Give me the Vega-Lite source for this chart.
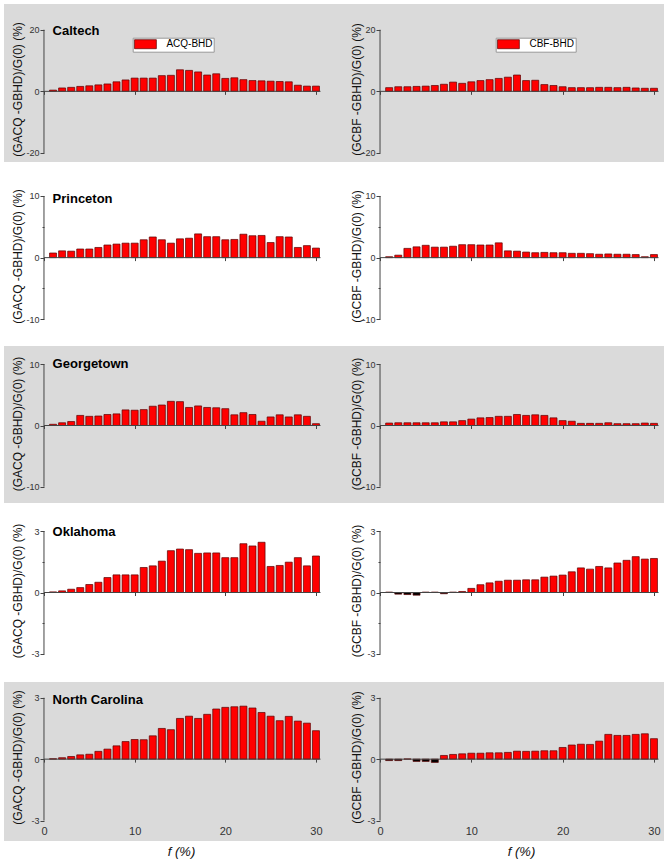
{
  "$schema": "https://vega.github.io/schema/vega-lite/v6.json",
  "padding": {"left": 4, "top": 4, "right": 0, "bottom": 0},
  "background": "white",
  "config": {
    "view": {"stroke": null},
    "scale": {"continuousPadding": 0},
    "axis": {"domain": false, "grid": false, "tickColor": "#444", "tickWidth": 1, "labelFont": "Liberation Sans", "labelFontSize": 9, "labelColor": "#333", "labelPadding": 1, "labelFlush": false, "titleFont": "Liberation Sans", "titleFontSize": 12, "titleFontWeight": "normal", "titleColor": "#111"},
    "text": {"font": "Liberation Sans"},
    "legend": {"labelFont": "Liberation Sans"}
  },
  "datasets": {
    "calA": [{"f":1,"v":0.4,"s":"ACQ-BHD"},{"f":2,"v":1.1,"s":"ACQ-BHD"},{"f":3,"v":1.3,"s":"ACQ-BHD"},{"f":4,"v":1.6,"s":"ACQ-BHD"},{"f":5,"v":1.8,"s":"ACQ-BHD"},{"f":6,"v":2.1,"s":"ACQ-BHD"},{"f":7,"v":2.4,"s":"ACQ-BHD"},{"f":8,"v":3.1,"s":"ACQ-BHD"},{"f":9,"v":3.7,"s":"ACQ-BHD"},{"f":10,"v":4.3,"s":"ACQ-BHD"},{"f":11,"v":4.3,"s":"ACQ-BHD"},{"f":12,"v":4.3,"s":"ACQ-BHD"},{"f":13,"v":5.1,"s":"ACQ-BHD"},{"f":14,"v":5.2,"s":"ACQ-BHD"},{"f":15,"v":7.0,"s":"ACQ-BHD"},{"f":16,"v":6.8,"s":"ACQ-BHD"},{"f":17,"v":6.3,"s":"ACQ-BHD"},{"f":18,"v":5.3,"s":"ACQ-BHD"},{"f":19,"v":5.7,"s":"ACQ-BHD"},{"f":20,"v":4.2,"s":"ACQ-BHD"},{"f":21,"v":4.4,"s":"ACQ-BHD"},{"f":22,"v":3.8,"s":"ACQ-BHD"},{"f":23,"v":3.5,"s":"ACQ-BHD"},{"f":24,"v":3.4,"s":"ACQ-BHD"},{"f":25,"v":3.3,"s":"ACQ-BHD"},{"f":26,"v":3.2,"s":"ACQ-BHD"},{"f":27,"v":3.1,"s":"ACQ-BHD"},{"f":28,"v":2.0,"s":"ACQ-BHD"},{"f":29,"v":1.7,"s":"ACQ-BHD"},{"f":30,"v":1.7,"s":"ACQ-BHD"}],
    "calC": [{"f":1,"v":1.2,"s":"CBF-BHD"},{"f":2,"v":1.5,"s":"CBF-BHD"},{"f":3,"v":1.5,"s":"CBF-BHD"},{"f":4,"v":1.6,"s":"CBF-BHD"},{"f":5,"v":1.7,"s":"CBF-BHD"},{"f":6,"v":1.9,"s":"CBF-BHD"},{"f":7,"v":2.3,"s":"CBF-BHD"},{"f":8,"v":3.0,"s":"CBF-BHD"},{"f":9,"v":2.6,"s":"CBF-BHD"},{"f":10,"v":3.1,"s":"CBF-BHD"},{"f":11,"v":3.5,"s":"CBF-BHD"},{"f":12,"v":3.8,"s":"CBF-BHD"},{"f":13,"v":4.2,"s":"CBF-BHD"},{"f":14,"v":4.6,"s":"CBF-BHD"},{"f":15,"v":5.3,"s":"CBF-BHD"},{"f":16,"v":3.5,"s":"CBF-BHD"},{"f":17,"v":3.6,"s":"CBF-BHD"},{"f":18,"v":2.2,"s":"CBF-BHD"},{"f":19,"v":1.9,"s":"CBF-BHD"},{"f":20,"v":1.5,"s":"CBF-BHD"},{"f":21,"v":1.2,"s":"CBF-BHD"},{"f":22,"v":1.2,"s":"CBF-BHD"},{"f":23,"v":1.2,"s":"CBF-BHD"},{"f":24,"v":1.3,"s":"CBF-BHD"},{"f":25,"v":1.3,"s":"CBF-BHD"},{"f":26,"v":1.2,"s":"CBF-BHD"},{"f":27,"v":1.3,"s":"CBF-BHD"},{"f":28,"v":1.1,"s":"CBF-BHD"},{"f":29,"v":1.0,"s":"CBF-BHD"},{"f":30,"v":1.0,"s":"CBF-BHD"}],
    "prA": [{"f":1,"v":0.75},{"f":2,"v":1.1},{"f":3,"v":1.05},{"f":4,"v":1.4},{"f":5,"v":1.4},{"f":6,"v":1.65},{"f":7,"v":2.05},{"f":8,"v":2.2},{"f":9,"v":2.35},{"f":10,"v":2.35},{"f":11,"v":2.9},{"f":12,"v":3.35},{"f":13,"v":2.9},{"f":14,"v":2.35},{"f":15,"v":3.05},{"f":16,"v":3.15},{"f":17,"v":3.85},{"f":18,"v":3.4},{"f":19,"v":3.4},{"f":20,"v":2.9},{"f":21,"v":2.95},{"f":22,"v":3.8},{"f":23,"v":3.55},{"f":24,"v":3.6},{"f":25,"v":2.45},{"f":26,"v":3.4},{"f":27,"v":3.35},{"f":28,"v":1.65},{"f":29,"v":1.95},{"f":30,"v":1.55}],
    "prC": [{"f":1,"v":0.15},{"f":2,"v":0.4},{"f":3,"v":1.5},{"f":4,"v":1.75},{"f":5,"v":2.0},{"f":6,"v":1.7},{"f":7,"v":1.7},{"f":8,"v":1.85},{"f":9,"v":2.1},{"f":10,"v":2.1},{"f":11,"v":2.05},{"f":12,"v":2.05},{"f":13,"v":2.4},{"f":14,"v":1.1},{"f":15,"v":1.05},{"f":16,"v":0.9},{"f":17,"v":0.8},{"f":18,"v":0.85},{"f":19,"v":0.8},{"f":20,"v":0.8},{"f":21,"v":0.7},{"f":22,"v":0.7},{"f":23,"v":0.65},{"f":24,"v":0.55},{"f":25,"v":0.6},{"f":26,"v":0.55},{"f":27,"v":0.55},{"f":28,"v":0.5},{"f":29,"v":0.15},{"f":30,"v":0.5}],
    "geA": [{"f":1,"v":0.2},{"f":2,"v":0.45},{"f":3,"v":0.65},{"f":4,"v":1.65},{"f":5,"v":1.5},{"f":6,"v":1.55},{"f":7,"v":1.8},{"f":8,"v":1.9},{"f":9,"v":2.55},{"f":10,"v":2.5},{"f":11,"v":2.6},{"f":12,"v":3.15},{"f":13,"v":3.35},{"f":14,"v":3.95},{"f":15,"v":3.9},{"f":16,"v":2.95},{"f":17,"v":3.2},{"f":18,"v":2.95},{"f":19,"v":2.9},{"f":20,"v":2.75},{"f":21,"v":1.75},{"f":22,"v":2.1},{"f":23,"v":1.8},{"f":24,"v":0.7},{"f":25,"v":1.4},{"f":26,"v":1.75},{"f":27,"v":1.4},{"f":28,"v":1.75},{"f":29,"v":1.5},{"f":30,"v":0.3}],
    "geC": [{"f":1,"v":0.4},{"f":2,"v":0.45},{"f":3,"v":0.45},{"f":4,"v":0.45},{"f":5,"v":0.45},{"f":6,"v":0.45},{"f":7,"v":0.6},{"f":8,"v":0.6},{"f":9,"v":0.8},{"f":10,"v":1.05},{"f":11,"v":1.25},{"f":12,"v":1.3},{"f":13,"v":1.5},{"f":14,"v":1.5},{"f":15,"v":1.8},{"f":16,"v":1.65},{"f":17,"v":1.75},{"f":18,"v":1.65},{"f":19,"v":1.25},{"f":20,"v":0.8},{"f":21,"v":0.7},{"f":22,"v":0.35},{"f":23,"v":0.35},{"f":24,"v":0.35},{"f":25,"v":0.45},{"f":26,"v":0.3},{"f":27,"v":0.3},{"f":28,"v":0.3},{"f":29,"v":0.4},{"f":30,"v":0.35}],
    "okA": [{"f":1,"v":0.03},{"f":2,"v":0.08},{"f":3,"v":0.16},{"f":4,"v":0.24},{"f":5,"v":0.39},{"f":6,"v":0.5},{"f":7,"v":0.73},{"f":8,"v":0.86},{"f":9,"v":0.86},{"f":10,"v":0.86},{"f":11,"v":1.22},{"f":12,"v":1.3},{"f":13,"v":1.53},{"f":14,"v":2.04},{"f":15,"v":2.12},{"f":16,"v":2.09},{"f":17,"v":1.91},{"f":18,"v":1.93},{"f":19,"v":1.93},{"f":20,"v":1.7},{"f":21,"v":1.7},{"f":22,"v":2.38},{"f":23,"v":2.27},{"f":24,"v":2.45},{"f":25,"v":1.27},{"f":26,"v":1.32},{"f":27,"v":1.48},{"f":28,"v":1.7},{"f":29,"v":1.3},{"f":30,"v":1.78}],
    "okC": [{"f":1,"v":0.02},{"f":2,"v":-0.08},{"f":3,"v":-0.1},{"f":4,"v":-0.13},{"f":5,"v":0.02},{"f":6,"v":0.02},{"f":7,"v":-0.06},{"f":8,"v":0.02},{"f":9,"v":0.05},{"f":10,"v":0.2},{"f":11,"v":0.38},{"f":12,"v":0.47},{"f":13,"v":0.55},{"f":14,"v":0.6},{"f":15,"v":0.6},{"f":16,"v":0.62},{"f":17,"v":0.62},{"f":18,"v":0.75},{"f":19,"v":0.8},{"f":20,"v":0.85},{"f":21,"v":1.01},{"f":22,"v":1.2},{"f":23,"v":1.14},{"f":24,"v":1.27},{"f":25,"v":1.2},{"f":26,"v":1.44},{"f":27,"v":1.57},{"f":28,"v":1.75},{"f":29,"v":1.63},{"f":30,"v":1.66}],
    "ncA": [{"f":1,"v":0.02},{"f":2,"v":0.07},{"f":3,"v":0.13},{"f":4,"v":0.21},{"f":5,"v":0.24},{"f":6,"v":0.38},{"f":7,"v":0.49},{"f":8,"v":0.65},{"f":9,"v":0.86},{"f":10,"v":0.96},{"f":11,"v":0.95},{"f":12,"v":1.14},{"f":13,"v":1.5},{"f":14,"v":1.44},{"f":15,"v":1.99},{"f":16,"v":2.1},{"f":17,"v":1.99},{"f":18,"v":2.19},{"f":19,"v":2.45},{"f":20,"v":2.53},{"f":21,"v":2.56},{"f":22,"v":2.59},{"f":23,"v":2.5},{"f":24,"v":2.28},{"f":25,"v":2.1},{"f":26,"v":1.88},{"f":27,"v":2.09},{"f":28,"v":1.86},{"f":29,"v":1.76},{"f":30,"v":1.39}],
    "ncC": [{"f":1,"v":-0.07},{"f":2,"v":-0.07},{"f":3,"v":0.01},{"f":4,"v":-0.11},{"f":5,"v":-0.11},{"f":6,"v":-0.16},{"f":7,"v":0.18},{"f":8,"v":0.23},{"f":9,"v":0.26},{"f":10,"v":0.29},{"f":11,"v":0.29},{"f":12,"v":0.31},{"f":13,"v":0.31},{"f":14,"v":0.33},{"f":15,"v":0.39},{"f":16,"v":0.38},{"f":17,"v":0.39},{"f":18,"v":0.41},{"f":19,"v":0.41},{"f":20,"v":0.57},{"f":21,"v":0.69},{"f":22,"v":0.73},{"f":23,"v":0.72},{"f":24,"v":0.88},{"f":25,"v":1.21},{"f":26,"v":1.16},{"f":27,"v":1.16},{"f":28,"v":1.21},{"f":29,"v":1.24},{"f":30,"v":1.0}],
    "one": [{}]
  },
  "resolve": {"scale": {"color": "independent"}, "legend": {"color": "independent"}},
  "spacing": 0,
  "vconcat": [
    {
      "spacing": 0,
      "resolve": {"scale": {"color": "independent"}, "legend": {"color": "independent"}},
      "hconcat": [
        {
          "width": 331, "height": 158,
          "view": {"fill": "#dadada", "stroke": null},
          "layer": [
            {"data": {"name": "calA"}, "mark": {"type": "bar", "size": 7, "stroke": "#5a0000", "strokeWidth": 0.7},
             "encoding": {
               "x": {"field": "f", "type": "quantitative", "scale": {"domain": [-4.41, 32.1], "nice": false, "zero": false, "padding": 0}, "axis": {"orient": "bottom", "offset": -70.65, "values": [0, 10, 20, 30], "labels": false, "tickSize": 3, "title": null}},
               "y": {"field": "v", "type": "quantitative", "scale": {"domain": [-22.92, 28.34], "nice": false, "zero": false}, "axis": {"orient": "left", "offset": -40, "values": [-20, -10, 0, 10, 20], "labelExpr": "abs(datum.value) == 10 ? '' : '' + datum.value", "tickSize": {"condition": {"test": "abs(datum.value) == 10", "value": 2}, "value": 4}, "title": "(GACQ -GBHD)/G(0) (%)", "titleX": -20, "titleY": 85}},
               "color": {"field": "s", "type": "nominal", "scale": {"domain": ["ACQ-BHD"], "range": ["#ff0000"]}, "legend": {"orient": "none", "legendX": 128.7, "legendY": 33.7, "title": null, "fillColor": "white", "strokeColor": "#999", "padding": 1, "symbolType": "M-2.3,-0.95L2.3,-0.95L2.3,0.95L-2.3,0.95Z", "symbolSize": 90, "symbolOffset": 6.25, "labelOffset": 15.5, "labelFontSize": 10, "labelColor": "#000", "symbolStrokeColor": "#5a0000", "symbolStrokeWidth": 0.7}}
             }},
            {"data": {"name": "one"}, "mark": {"type": "rule", "color": "#444"}, "encoding": {"x": {"datum": 0}, "x2": {"datum": 30.5}, "y": {"datum": 0}}},
            {"data": {"name": "one"}, "mark": {"type": "rule", "color": "#444"}, "encoding": {"x": {"datum": 0}, "y": {"datum": -20}, "y2": {"datum": 20}}},
            {"data": {"values": [{"name": "Caltech"}]}, "mark": {"type": "text", "align": "left", "baseline": "alphabetic", "fontSize": 13, "fontWeight": "bold", "color": "#000"}, "encoding": {"text": {"field": "name"}, "x": {"datum": 0.95}, "y": {"datum": 18.2}}}
          ]
        },
        {
          "width": 329, "height": 158,
          "view": {"fill": "#dadada", "stroke": null},
          "layer": [
            {"data": {"name": "calC"}, "mark": {"type": "bar", "size": 7, "stroke": "#5a0000", "strokeWidth": 0.7},
             "encoding": {
               "x": {"field": "f", "type": "quantitative", "scale": {"domain": [-4.93, 31.1], "nice": false, "zero": false, "padding": 0}, "axis": {"orient": "bottom", "offset": -70.65, "values": [0, 10, 20, 30], "labels": false, "tickSize": 3, "title": null}},
               "y": {"field": "v", "type": "quantitative", "scale": {"domain": [-22.92, 28.34], "nice": false, "zero": false}, "axis": {"orient": "left", "offset": -45, "values": [-20, -10, 0, 10, 20], "labelExpr": "abs(datum.value) == 10 ? '' : '' + datum.value", "tickSize": {"condition": {"test": "abs(datum.value) == 10", "value": 2}, "value": 4}, "title": "(GCBF -GBHD)/G(0) (%)", "titleX": -16.5, "titleY": 85}},
               "color": {"field": "s", "type": "nominal", "scale": {"domain": ["CBF-BHD"], "range": ["#ff0000"]}, "legend": {"orient": "none", "legendX": 160.7, "legendY": 33.7, "title": null, "fillColor": "white", "strokeColor": "#999", "padding": 1, "symbolType": "M-2.3,-0.95L2.3,-0.95L2.3,0.95L-2.3,0.95Z", "symbolSize": 90, "symbolOffset": 6.25, "labelOffset": 15.5, "labelFontSize": 10, "labelColor": "#000", "symbolStrokeColor": "#5a0000", "symbolStrokeWidth": 0.7}}
             }},
            {"data": {"name": "one"}, "mark": {"type": "rule", "color": "#444"}, "encoding": {"x": {"datum": 0}, "x2": {"datum": 30.5}, "y": {"datum": 0}}},
            {"data": {"name": "one"}, "mark": {"type": "rule", "color": "#444"}, "encoding": {"x": {"datum": 0}, "y": {"datum": -20}, "y2": {"datum": 20}}}
          ]
        }
      ]
    },
    {
      "spacing": 0,
      "resolve": {"scale": {"color": "independent"}, "legend": {"color": "independent"}},
      "hconcat": [
        {
          "width": 331, "height": 184,
          "layer": [
            {"data": {"name": "prA"}, "mark": {"type": "bar", "size": 7, "stroke": "#5a0000", "strokeWidth": 0.7},
             "encoding": {
               "x": {"field": "f", "type": "quantitative", "scale": {"domain": [-4.41, 32.1], "nice": false, "zero": false, "padding": 0}, "axis": {"orient": "bottom", "offset": -88.4, "values": [0, 10, 20, 30], "labels": false, "tickSize": 3, "title": null}},
               "y": {"field": "v", "type": "quantitative", "scale": {"domain": [-14.33, 15.51], "nice": false, "zero": false}, "axis": {"orient": "left", "offset": -40, "values": [-10, -5, 0, 5, 10], "labelExpr": "abs(datum.value) == 5 ? '' : '' + datum.value", "tickSize": {"condition": {"test": "abs(datum.value) == 5", "value": 2}, "value": 4}, "title": "(GACQ -GBHD)/G(0) (%)", "titleX": -20, "titleY": 94}},
               "color": {"condition": {"test": "datum.v < 0", "value": "#000000"}, "value": "#ff0000"}
             }},
            {"data": {"name": "one"}, "mark": {"type": "rule", "color": "#444"}, "encoding": {"x": {"datum": 0}, "x2": {"datum": 30.5}, "y": {"datum": 0}}},
            {"data": {"name": "one"}, "mark": {"type": "rule", "color": "#444"}, "encoding": {"x": {"datum": 0}, "y": {"datum": -10}, "y2": {"datum": 10}}},
            {"data": {"values": [{"name": "Princeton"}]}, "mark": {"type": "text", "align": "left", "baseline": "alphabetic", "fontSize": 13, "fontWeight": "bold", "color": "#000"}, "encoding": {"text": {"field": "name"}, "x": {"datum": 0.95}, "y": {"datum": 8.86}}}
          ]
        },
        {
          "width": 329, "height": 184,
          "layer": [
            {"data": {"name": "prC"}, "mark": {"type": "bar", "size": 7, "stroke": "#5a0000", "strokeWidth": 0.7},
             "encoding": {
               "x": {"field": "f", "type": "quantitative", "scale": {"domain": [-4.93, 31.1], "nice": false, "zero": false, "padding": 0}, "axis": {"orient": "bottom", "offset": -88.4, "values": [0, 10, 20, 30], "labels": false, "tickSize": 3, "title": null}},
               "y": {"field": "v", "type": "quantitative", "scale": {"domain": [-14.33, 15.51], "nice": false, "zero": false}, "axis": {"orient": "left", "offset": -45, "values": [-10, -5, 0, 5, 10], "labelExpr": "abs(datum.value) == 5 ? '' : '' + datum.value", "tickSize": {"condition": {"test": "abs(datum.value) == 5", "value": 2}, "value": 4}, "title": "(GCBF -GBHD)/G(0) (%)", "titleX": -16.5, "titleY": 94}},
               "color": {"condition": {"test": "datum.v < 0", "value": "#000000"}, "value": "#ff0000"}
             }},
            {"data": {"name": "one"}, "mark": {"type": "rule", "color": "#444"}, "encoding": {"x": {"datum": 0}, "x2": {"datum": 30.5}, "y": {"datum": 0}}},
            {"data": {"name": "one"}, "mark": {"type": "rule", "color": "#444"}, "encoding": {"x": {"datum": 0}, "y": {"datum": -10}, "y2": {"datum": 10}}}
          ]
        }
      ]
    },
    {
      "spacing": 0,
      "resolve": {"scale": {"color": "independent"}, "legend": {"color": "independent"}},
      "hconcat": [
        {
          "width": 331, "height": 157,
          "view": {"fill": "#dadada", "stroke": null},
          "layer": [
            {"data": {"name": "geA"}, "mark": {"type": "bar", "size": 7, "stroke": "#5a0000", "strokeWidth": 0.7},
             "encoding": {
               "x": {"field": "f", "type": "quantitative", "scale": {"domain": [-4.41, 32.1], "nice": false, "zero": false, "padding": 0}, "axis": {"orient": "bottom", "offset": -77.5, "values": [0, 10, 20, 30], "labels": false, "tickSize": 3, "title": null}},
               "y": {"field": "v", "type": "quantitative", "scale": {"domain": [-12.66, 12.99], "nice": false, "zero": false}, "axis": {"orient": "left", "offset": -40, "values": [-10, -5, 0, 5, 10], "labelExpr": "abs(datum.value) == 5 ? '' : '' + datum.value", "tickSize": {"condition": {"test": "abs(datum.value) == 5", "value": 2}, "value": 4}, "title": "(GACQ -GBHD)/G(0) (%)", "titleX": -20, "titleY": 77.5}},
               "color": {"condition": {"test": "datum.v < 0", "value": "#000000"}, "value": "#ff0000"}
             }},
            {"data": {"name": "one"}, "mark": {"type": "rule", "color": "#444"}, "encoding": {"x": {"datum": 0}, "x2": {"datum": 30.5}, "y": {"datum": 0}}},
            {"data": {"name": "one"}, "mark": {"type": "rule", "color": "#444"}, "encoding": {"x": {"datum": 0}, "y": {"datum": -10}, "y2": {"datum": 10}}},
            {"data": {"values": [{"name": "Georgetown"}]}, "mark": {"type": "text", "align": "left", "baseline": "alphabetic", "fontSize": 13, "fontWeight": "bold", "color": "#000"}, "encoding": {"text": {"field": "name"}, "x": {"datum": 0.95}, "y": {"datum": 9.35}}}
          ]
        },
        {
          "width": 329, "height": 157,
          "view": {"fill": "#dadada", "stroke": null},
          "layer": [
            {"data": {"name": "geC"}, "mark": {"type": "bar", "size": 7, "stroke": "#5a0000", "strokeWidth": 0.7},
             "encoding": {
               "x": {"field": "f", "type": "quantitative", "scale": {"domain": [-4.93, 31.1], "nice": false, "zero": false, "padding": 0}, "axis": {"orient": "bottom", "offset": -77.5, "values": [0, 10, 20, 30], "labels": false, "tickSize": 3, "title": null}},
               "y": {"field": "v", "type": "quantitative", "scale": {"domain": [-12.66, 12.99], "nice": false, "zero": false}, "axis": {"orient": "left", "offset": -45, "values": [-10, -5, 0, 5, 10], "labelExpr": "abs(datum.value) == 5 ? '' : '' + datum.value", "tickSize": {"condition": {"test": "abs(datum.value) == 5", "value": 2}, "value": 4}, "title": "(GCBF -GBHD)/G(0) (%)", "titleX": -16.5, "titleY": 77.5}},
               "color": {"condition": {"test": "datum.v < 0", "value": "#000000"}, "value": "#ff0000"}
             }},
            {"data": {"name": "one"}, "mark": {"type": "rule", "color": "#444"}, "encoding": {"x": {"datum": 0}, "x2": {"datum": 30.5}, "y": {"datum": 0}}},
            {"data": {"name": "one"}, "mark": {"type": "rule", "color": "#444"}, "encoding": {"x": {"datum": 0}, "y": {"datum": -10}, "y2": {"datum": 10}}}
          ]
        }
      ]
    },
    {
      "spacing": 0,
      "resolve": {"scale": {"color": "independent"}, "legend": {"color": "independent"}},
      "hconcat": [
        {
          "width": 331, "height": 179,
          "layer": [
            {"data": {"name": "okA"}, "mark": {"type": "bar", "size": 7, "stroke": "#5a0000", "strokeWidth": 0.7},
             "encoding": {
               "x": {"field": "f", "type": "quantitative", "scale": {"domain": [-4.41, 32.1], "nice": false, "zero": false, "padding": 0}, "axis": {"orient": "bottom", "offset": -89.5, "values": [0, 10, 20, 30], "labels": false, "tickSize": 3, "title": null}},
               "y": {"field": "v", "type": "quantitative", "scale": {"domain": [-4.366, 4.366], "nice": false, "zero": false}, "axis": {"orient": "left", "offset": -40, "values": [-3, -1.5, 0, 1.5, 3], "labelExpr": "abs(datum.value) == 1.5 ? '' : '' + datum.value", "tickSize": {"condition": {"test": "abs(datum.value) == 1.5", "value": 2}, "value": 4}, "title": "(GACQ -GBHD)/G(0) (%)", "titleX": -20, "titleY": 87.5}},
               "color": {"condition": {"test": "datum.v < 0", "value": "#000000"}, "value": "#ff0000"}
             }},
            {"data": {"name": "one"}, "mark": {"type": "rule", "color": "#444"}, "encoding": {"x": {"datum": 0}, "x2": {"datum": 30.5}, "y": {"datum": 0}}},
            {"data": {"name": "one"}, "mark": {"type": "rule", "color": "#444"}, "encoding": {"x": {"datum": 0}, "y": {"datum": -3}, "y2": {"datum": 3}}},
            {"data": {"values": [{"name": "Oklahoma"}]}, "mark": {"type": "text", "align": "left", "baseline": "alphabetic", "fontSize": 13, "fontWeight": "bold", "color": "#000"}, "encoding": {"text": {"field": "name"}, "x": {"datum": 0.95}, "y": {"datum": 2.76}}}
          ]
        },
        {
          "width": 329, "height": 179,
          "layer": [
            {"data": {"name": "okC"}, "mark": {"type": "bar", "size": 7, "stroke": "#5a0000", "strokeWidth": 0.7},
             "encoding": {
               "x": {"field": "f", "type": "quantitative", "scale": {"domain": [-4.93, 31.1], "nice": false, "zero": false, "padding": 0}, "axis": {"orient": "bottom", "offset": -89.5, "values": [0, 10, 20, 30], "labels": false, "tickSize": 3, "title": null}},
               "y": {"field": "v", "type": "quantitative", "scale": {"domain": [-4.366, 4.366], "nice": false, "zero": false}, "axis": {"orient": "left", "offset": -45, "values": [-3, -1.5, 0, 1.5, 3], "labelExpr": "abs(datum.value) == 1.5 ? '' : '' + datum.value", "tickSize": {"condition": {"test": "abs(datum.value) == 1.5", "value": 2}, "value": 4}, "title": "(GCBF -GBHD)/G(0) (%)", "titleX": -16.5, "titleY": 87.5}},
               "color": {"condition": {"test": "datum.v < 0", "value": "#000000"}, "value": "#ff0000"}
             }},
            {"data": {"name": "one"}, "mark": {"type": "rule", "color": "#444"}, "encoding": {"x": {"datum": 0}, "x2": {"datum": 30.5}, "y": {"datum": 0}}},
            {"data": {"name": "one"}, "mark": {"type": "rule", "color": "#444"}, "encoding": {"x": {"datum": 0}, "y": {"datum": -3}, "y2": {"datum": 3}}}
          ]
        }
      ]
    },
    {
      "spacing": 0,
      "resolve": {"scale": {"color": "independent"}, "legend": {"color": "independent"}},
      "hconcat": [
        {
          "width": 331, "height": 159,
          "view": {"fill": "#dadada", "stroke": null},
          "layer": [
            {"data": {"name": "ncA"}, "mark": {"type": "bar", "size": 7, "stroke": "#5a0000", "strokeWidth": 0.7},
             "encoding": {
               "x": {"field": "f", "type": "quantitative", "scale": {"domain": [-4.41, 32.1], "nice": false, "zero": false, "padding": 0}, "axis": {"orient": "bottom", "offset": -81.9, "values": [0, 10, 20, 30], "labels": true, "labelFontSize": 11, "labelPadding": 63, "tickSize": 3, "title": "f (%)", "titleFontSize": 13, "titleFontStyle": "italic", "titleX": 177, "titleY": 96, "titleBaseline": "alphabetic"}},
               "y": {"field": "v", "type": "quantitative", "scale": {"domain": [-4.0, 3.77], "nice": false, "zero": false}, "axis": {"orient": "left", "offset": -40, "values": [-3, -1.5, 0, 1.5, 3], "labelExpr": "abs(datum.value) == 1.5 ? '' : '' + datum.value", "tickSize": {"condition": {"test": "abs(datum.value) == 1.5", "value": 2}, "value": 4}, "title": "(GACQ -GBHD)/G(0) (%)", "titleX": -20, "titleY": 75}},
               "color": {"condition": {"test": "datum.v < 0", "value": "#000000"}, "value": "#ff0000"}
             }},
            {"data": {"name": "one"}, "mark": {"type": "rule", "color": "#444"}, "encoding": {"x": {"datum": 0}, "x2": {"datum": 30.5}, "y": {"datum": 0}}},
            {"data": {"name": "one"}, "mark": {"type": "rule", "color": "#444"}, "encoding": {"x": {"datum": 0}, "y": {"datum": -3}, "y2": {"datum": 3}}},
            {"data": {"values": [{"name": "North Carolina"}]}, "mark": {"type": "text", "align": "left", "baseline": "alphabetic", "fontSize": 13, "fontWeight": "bold", "color": "#000"}, "encoding": {"text": {"field": "name"}, "x": {"datum": 0.95}, "y": {"datum": 2.71}}}
          ]
        },
        {
          "width": 329, "height": 159,
          "view": {"fill": "#dadada", "stroke": null},
          "layer": [
            {"data": {"name": "ncC"}, "mark": {"type": "bar", "size": 7, "stroke": "#5a0000", "strokeWidth": 0.7},
             "encoding": {
               "x": {"field": "f", "type": "quantitative", "scale": {"domain": [-4.93, 31.1], "nice": false, "zero": false, "padding": 0}, "axis": {"orient": "bottom", "offset": -81.9, "values": [0, 10, 20, 30], "labels": true, "labelFontSize": 11, "labelPadding": 63, "tickSize": 3, "title": "f (%)", "titleFontSize": 13, "titleFontStyle": "italic", "titleX": 186, "titleY": 96, "titleBaseline": "alphabetic"}},
               "y": {"field": "v", "type": "quantitative", "scale": {"domain": [-4.0, 3.77], "nice": false, "zero": false}, "axis": {"orient": "left", "offset": -45, "values": [-3, -1.5, 0, 1.5, 3], "labelExpr": "abs(datum.value) == 1.5 ? '' : '' + datum.value", "tickSize": {"condition": {"test": "abs(datum.value) == 1.5", "value": 2}, "value": 4}, "title": "(GCBF -GBHD)/G(0) (%)", "titleX": -16.5, "titleY": 75}},
               "color": {"condition": {"test": "datum.v < 0", "value": "#000000"}, "value": "#ff0000"}
             }},
            {"data": {"name": "one"}, "mark": {"type": "rule", "color": "#444"}, "encoding": {"x": {"datum": 0}, "x2": {"datum": 30.5}, "y": {"datum": 0}}},
            {"data": {"name": "one"}, "mark": {"type": "rule", "color": "#444"}, "encoding": {"x": {"datum": 0}, "y": {"datum": -3}, "y2": {"datum": 3}}}
          ]
        }
      ]
    }
  ]
}
